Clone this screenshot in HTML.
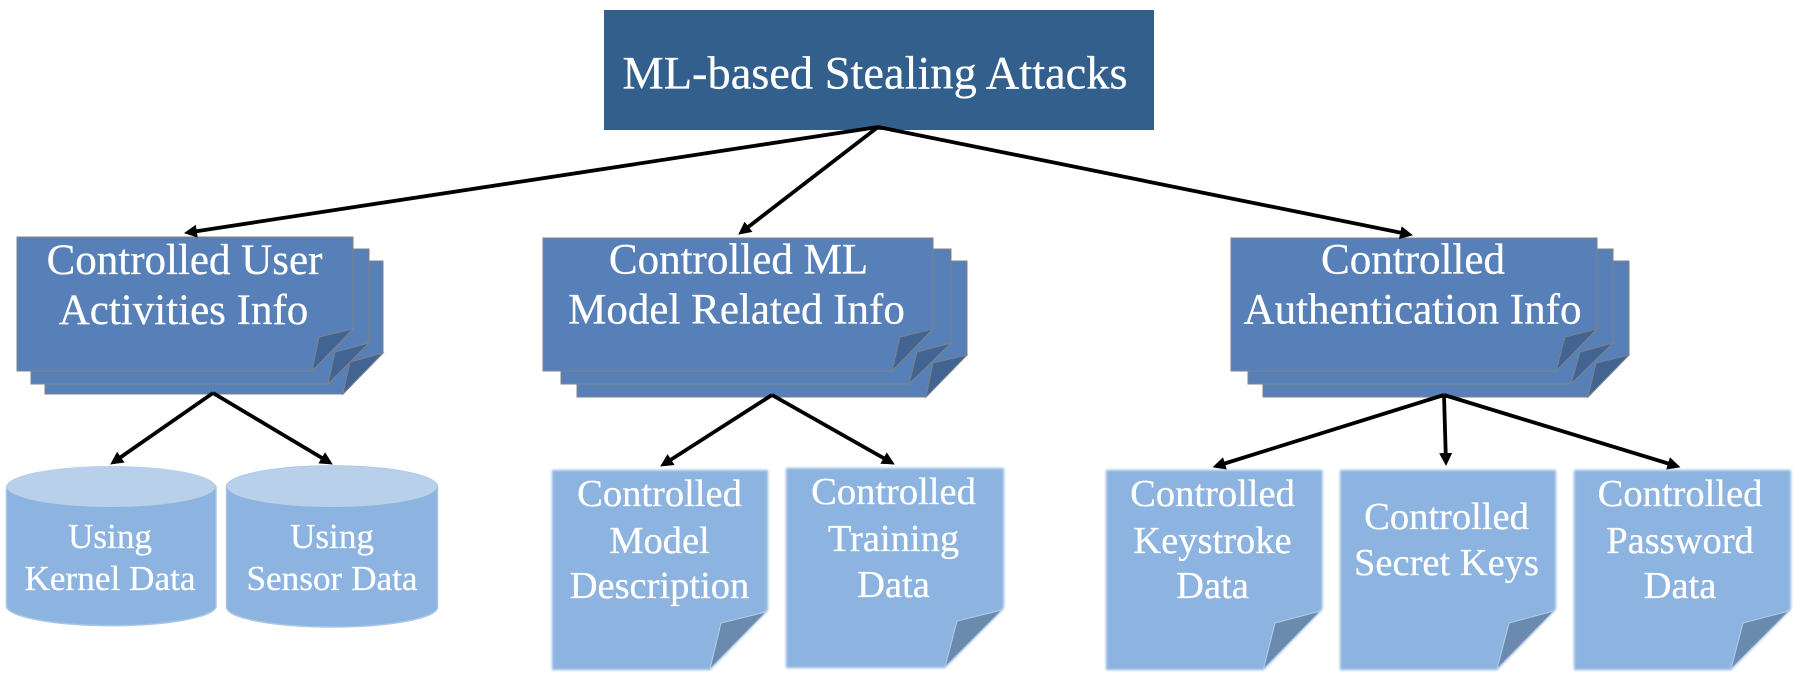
<!DOCTYPE html>
<html>
<head>
<meta charset="utf-8">
<style>
html,body{margin:0;padding:0;background:#fff;width:1802px;height:676px;overflow:hidden}
svg{display:block;filter:blur(0.35px)}
text{font-family:"Liberation Serif",serif;fill:#fff;text-anchor:middle;stroke:#fff;stroke-width:0.25px}
.r{font-size:46.4px}
.s{font-size:43px}
.n{font-size:38.5px}
.c{font-size:35.2px}
.st{fill:#5780B8;stroke:#7d8288;stroke-width:1;stroke-linejoin:miter}
.sf{fill:#426492;stroke:#7d8288;stroke-width:1}
.note{fill:#8DB4E0;filter:url(#soft)}
.nf{fill:#6B8BAE;stroke:#B5CCE6;stroke-width:1}
.cy{fill:#8DB4E0;stroke:#A9C5E6;stroke-width:1.5}
.ct{fill:#B8D0EA;stroke:none}
.a{stroke:#000;stroke-width:3.8;fill:none;marker-end:url(#h)}
</style>
</head>
<body>
<svg width="1802" height="676" viewBox="0 0 1802 676" xmlns="http://www.w3.org/2000/svg">
<defs>
<filter id="soft" x="-5%" y="-5%" width="110%" height="110%"><feGaussianBlur stdDeviation="1.2"/></filter>
<marker id="h" markerUnits="userSpaceOnUse" markerWidth="15" markerHeight="14" refX="7" refY="6.5" orient="auto">
<path d="M0,0 L13,6.5 L0,13 Z" fill="#000"/>
</marker>
</defs>
<rect width="1802" height="676" fill="#fff"/>

<!-- root -->
<rect x="604" y="10" width="550" height="120" fill="#335F8C"/>
<text class="r" x="875" y="88.5">ML-based Stealing Attacks</text>

<!-- stack 1 -->
<polygon class="st" points="45,261 383,261 383,353 343,394 45,394"/>
<polygon class="sf" points="383,353 350,362 343,394"/>
<polygon class="st" points="31,249 369,249 369,343 328,384 31,384"/>
<polygon class="sf" points="369,343 335,352 328,384"/>
<polygon class="st" points="17,237 353,237 353,329 312,371 17,371"/>
<polygon class="sf" points="353,329 319,337 312,371"/>
<text class="s" x="184.5" y="274">Controlled User</text>
<text class="s" x="183.5" y="324">Activities Info</text>

<!-- stack 2 -->
<polygon class="st" points="577,261 967,261 967,355 926,397 577,397"/>
<polygon class="sf" points="967,355 933,363 926,397"/>
<polygon class="st" points="561,249 951,249 951,343 909,384 561,384"/>
<polygon class="sf" points="951,343 917,352 909,384"/>
<polygon class="st" points="543,238 933,238 933,329 892,371 543,371"/>
<polygon class="sf" points="933,329 900,337 892,371"/>
<text class="s" x="738.5" y="273.5">Controlled ML</text>
<text class="s" x="736.5" y="323.5">Model Related Info</text>

<!-- stack 3 -->
<polygon class="st" points="1263,261 1629,261 1629,355 1588,397 1263,397"/>
<polygon class="sf" points="1629,355 1596,363 1588,397"/>
<polygon class="st" points="1248,249 1613,249 1613,343 1571,384 1248,384"/>
<polygon class="sf" points="1613,343 1580,352 1571,384"/>
<polygon class="st" points="1231,238 1597,238 1597,329 1556,371 1231,371"/>
<polygon class="sf" points="1597,329 1565,337 1556,371"/>
<text class="s" x="1413" y="273.5">Controlled</text>
<text class="s" x="1412.5" y="323.5">Authentication Info</text>

<!-- arrows -->
<line class="a" x1="878" y1="127" x2="189.9" y2="232.2"/>
<line class="a" x1="878" y1="127" x2="743" y2="231"/>
<line class="a" x1="878" y1="127" x2="1407.1" y2="234"/>
<line class="a" x1="213" y1="393" x2="115.1" y2="461.1"/>
<line class="a" x1="213" y1="393" x2="327.7" y2="461.4"/>
<line class="a" x1="772" y1="395" x2="665.2" y2="463.3"/>
<line class="a" x1="772" y1="395" x2="889.6" y2="461.5"/>
<line class="a" x1="1444" y1="395" x2="1218.3" y2="465.5"/>
<line class="a" x1="1444" y1="395" x2="1445.9" y2="460"/>
<line class="a" x1="1444" y1="395" x2="1674.7" y2="465.5"/>

<!-- cylinders -->
<path class="cy" d="M6.5,487 A105,21 0 0 1 216,487 V607 A105,20 0 0 1 6.5,607 Z"/>
<ellipse class="ct" cx="111" cy="486.5" rx="104.5" ry="20.5"/>
<text class="c" x="110" y="548">Using</text>
<text class="c" x="110" y="590">Kernel Data</text>

<path class="cy" d="M226.5,487 A105.5,21 0 0 1 437.5,487 V607 A105.5,20 0 0 1 226.5,607 Z"/>
<ellipse class="ct" cx="332" cy="486.5" rx="105" ry="20.5"/>
<text class="c" x="332" y="548">Using</text>
<text class="c" x="332" y="590">Sensor Data</text>

<!-- notes -->
<polygon class="note" points="552,470 768,470 768,610 710,670 552,670"/>
<polygon class="nf" points="766,612 721,623 710,669"/>
<text class="n" x="659.5" y="506">Controlled</text>
<text class="n" x="659.5" y="553">Model</text>
<text class="n" x="659.5" y="598">Description</text>

<polygon class="note" points="786,468 1004,468 1004,608 945,668 786,668"/>
<polygon class="nf" points="1002,610 957,621 945,667"/>
<text class="n" x="893.5" y="504">Controlled</text>
<text class="n" x="893.5" y="551">Training</text>
<text class="n" x="893.5" y="597">Data</text>

<polygon class="note" points="1106,470 1322.5,470 1322.5,609 1263.5,670 1106,670"/>
<polygon class="nf" points="1320.5,611 1275,623 1263.5,669"/>
<text class="n" x="1212.5" y="506">Controlled</text>
<text class="n" x="1212.5" y="553">Keystroke</text>
<text class="n" x="1212.5" y="598">Data</text>

<polygon class="note" points="1340,470 1556,470 1556,609 1497,670 1340,670"/>
<polygon class="nf" points="1554,611 1509,623 1497,669"/>
<text class="n" x="1446.5" y="529">Controlled</text>
<text class="n" x="1446.5" y="575">Secret Keys</text>

<polygon class="note" points="1574,470 1791,470 1791,609 1731,670 1574,670"/>
<polygon class="nf" points="1789,611 1743,623 1731,669"/>
<text class="n" x="1680" y="506">Controlled</text>
<text class="n" x="1680" y="553">Password</text>
<text class="n" x="1680" y="598">Data</text>
</svg>
</body>
</html>
